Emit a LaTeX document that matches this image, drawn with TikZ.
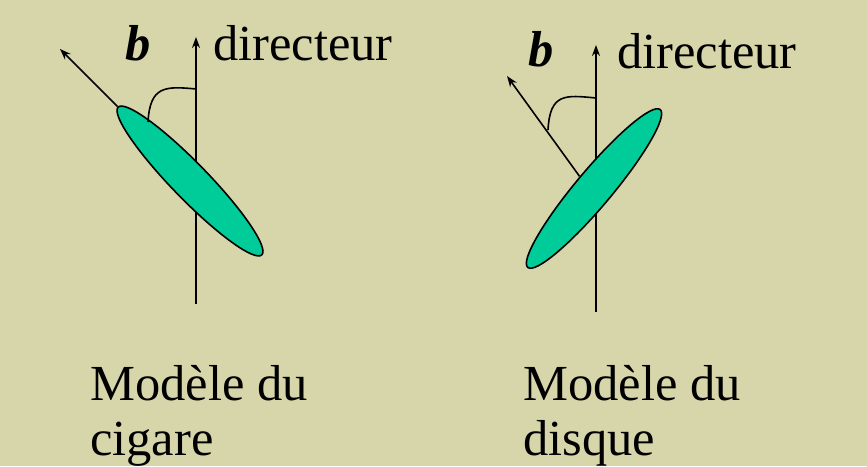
\documentclass[tikz,border=0pt]{standalone}
\usepackage{fontspec}
\setmainfont{Liberation Serif}
\usetikzlibrary{shapes.geometric,arrows.meta}
\definecolor{bgc}{RGB}{214,214,170}
\definecolor{ellc}{RGB}{0,204,153}
\tikzset{
  ellshape/.style={ellipse, draw=black, fill=ellc, line width=1.6pt, minimum width=206pt, minimum height=36pt, inner sep=0pt},
  axisline/.style={line width=1.6pt, -{Stealth[length=11pt,width=8pt]}},
  anglearc/.style={line width=1.6pt},
  lbl/.style={inner sep=0pt, anchor=base west, font=\fontsize{50.5pt}{56pt}\selectfont},
  blbl/.style={inner sep=0pt, anchor=base west, font=\fontsize{50.5pt}{56pt}\selectfont\bfseries\itshape}
}
\begin{document}
\begin{tikzpicture}[x=1pt,y=1pt]
\fill[bgc] (0,0) rectangle (867,-466);
\useasboundingbox (0,0) rectangle (867,-466);
% left: cigare
\coordinate (d1b) at (196,-304);
\coordinate (d1t) at (196,-37);
\draw[axisline] (d1b) -- (d1t);
\node[ellshape, rotate=-45.8] (e1) at (190,-181) {};
\coordinate (b1) at (60,-49);
\draw[axisline] (e1.west) -- (b1);
\coordinate (a1s) at (196,-89);
\coordinate (a1e) at (148,-122);
\draw[anglearc] (a1s) .. controls (165,-86) and (150,-86) .. (a1e);
\node[blbl] (lb1) at (125,-60) {b};
\node[lbl] (ld1) at (213,-60) {directeur};
\node[lbl] (lm1) at (90,-400) {Modèle du};
\node[lbl] (lc1) at (90,-455) {cigare};
% right: disque
\coordinate (d2b) at (596,-312);
\coordinate (d2t) at (596,-45);
\draw[axisline] (d2b) -- (d2t);
\node[ellshape, rotate=50] (e2) at (594,-188.5) {};
\coordinate (b2) at (507,-76);
\draw[axisline] (e2.north) -- (b2);
\coordinate (a2s) at (596,-98);
\coordinate (a2e) at (548,-130);
\draw[anglearc] (a2s) .. controls (565,-95) and (550,-93) .. (a2e);
\node[blbl] (lb2) at (528,-66) {b};
\node[lbl] (ld2) at (617,-68) {directeur};
\node[lbl] (lm2) at (523,-400) {Modèle du};
\node[lbl] (ld3) at (523,-455) {disque};
\end{tikzpicture}
\end{document}
